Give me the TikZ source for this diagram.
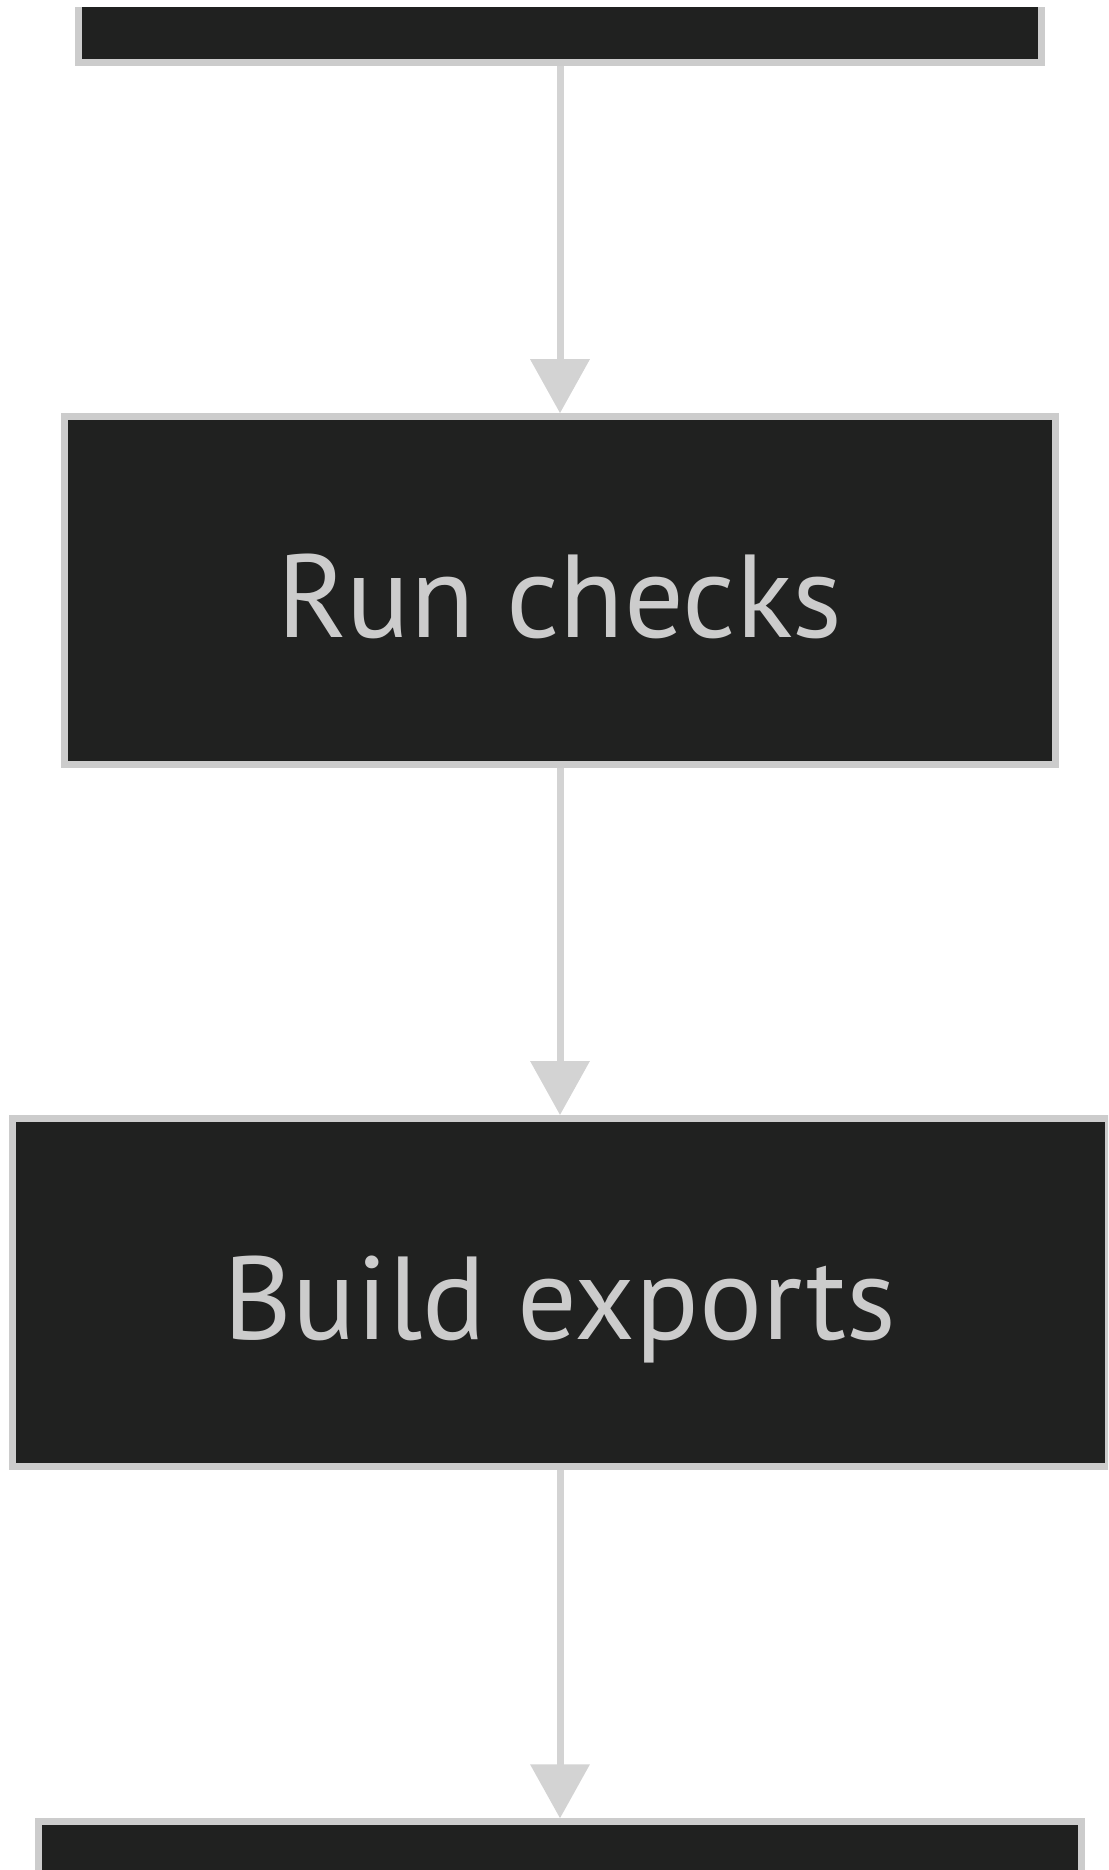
\documentclass[tikz,border=0pt]{standalone}
\usepackage{fontspec}
\setmainfont{PT Sans}
\usetikzlibrary{arrows.meta}
\definecolor{boxfill}{RGB}{32,33,32}
\definecolor{boxline}{RGB}{204,204,204}
\definecolor{edgecol}{RGB}{211,211,211}
\definecolor{textcol}{RGB}{204,204,204}
\tikzset{
  flowbox/.style={draw=boxline, fill=boxfill, line width=7pt, rectangle,
    minimum height=348pt, inner sep=0pt, text=textcol,
    font=\fontsize{118}{122}\selectfont, text height=100pt, text depth=7pt},
  flowedge/.style={draw=edgecol, line width=7pt,
    -{Triangle[length=54pt,width=58pt]}, color=edgecol},
}
\begin{document}
\begin{tikzpicture}[x=1pt,y=-1pt]
\fill[white] (0,0) rectangle (1108,1870);
\useasboundingbox (0,0) rectangle (1108,1870);
\begin{scope}
\clip (0,8) rectangle (1108,1870);
\node[flowbox, minimum width=963pt] (start) at (560,-111.5) {};
\node[flowbox, minimum width=991pt] (checks) at (560,590.7) {Run checks};
\node[flowbox, minimum width=1096pt] (exports) at (560,1292.5) {Build exports};
\node[flowbox, minimum width=1043pt] (next) at (560,1995.8) {};
\draw[flowedge] (start.south) -- (checks.north);
\draw[flowedge] (checks.south) -- (exports.north);
\draw[flowedge] (exports.south) -- (next.north);
\end{scope}
\end{tikzpicture}
\end{document}
